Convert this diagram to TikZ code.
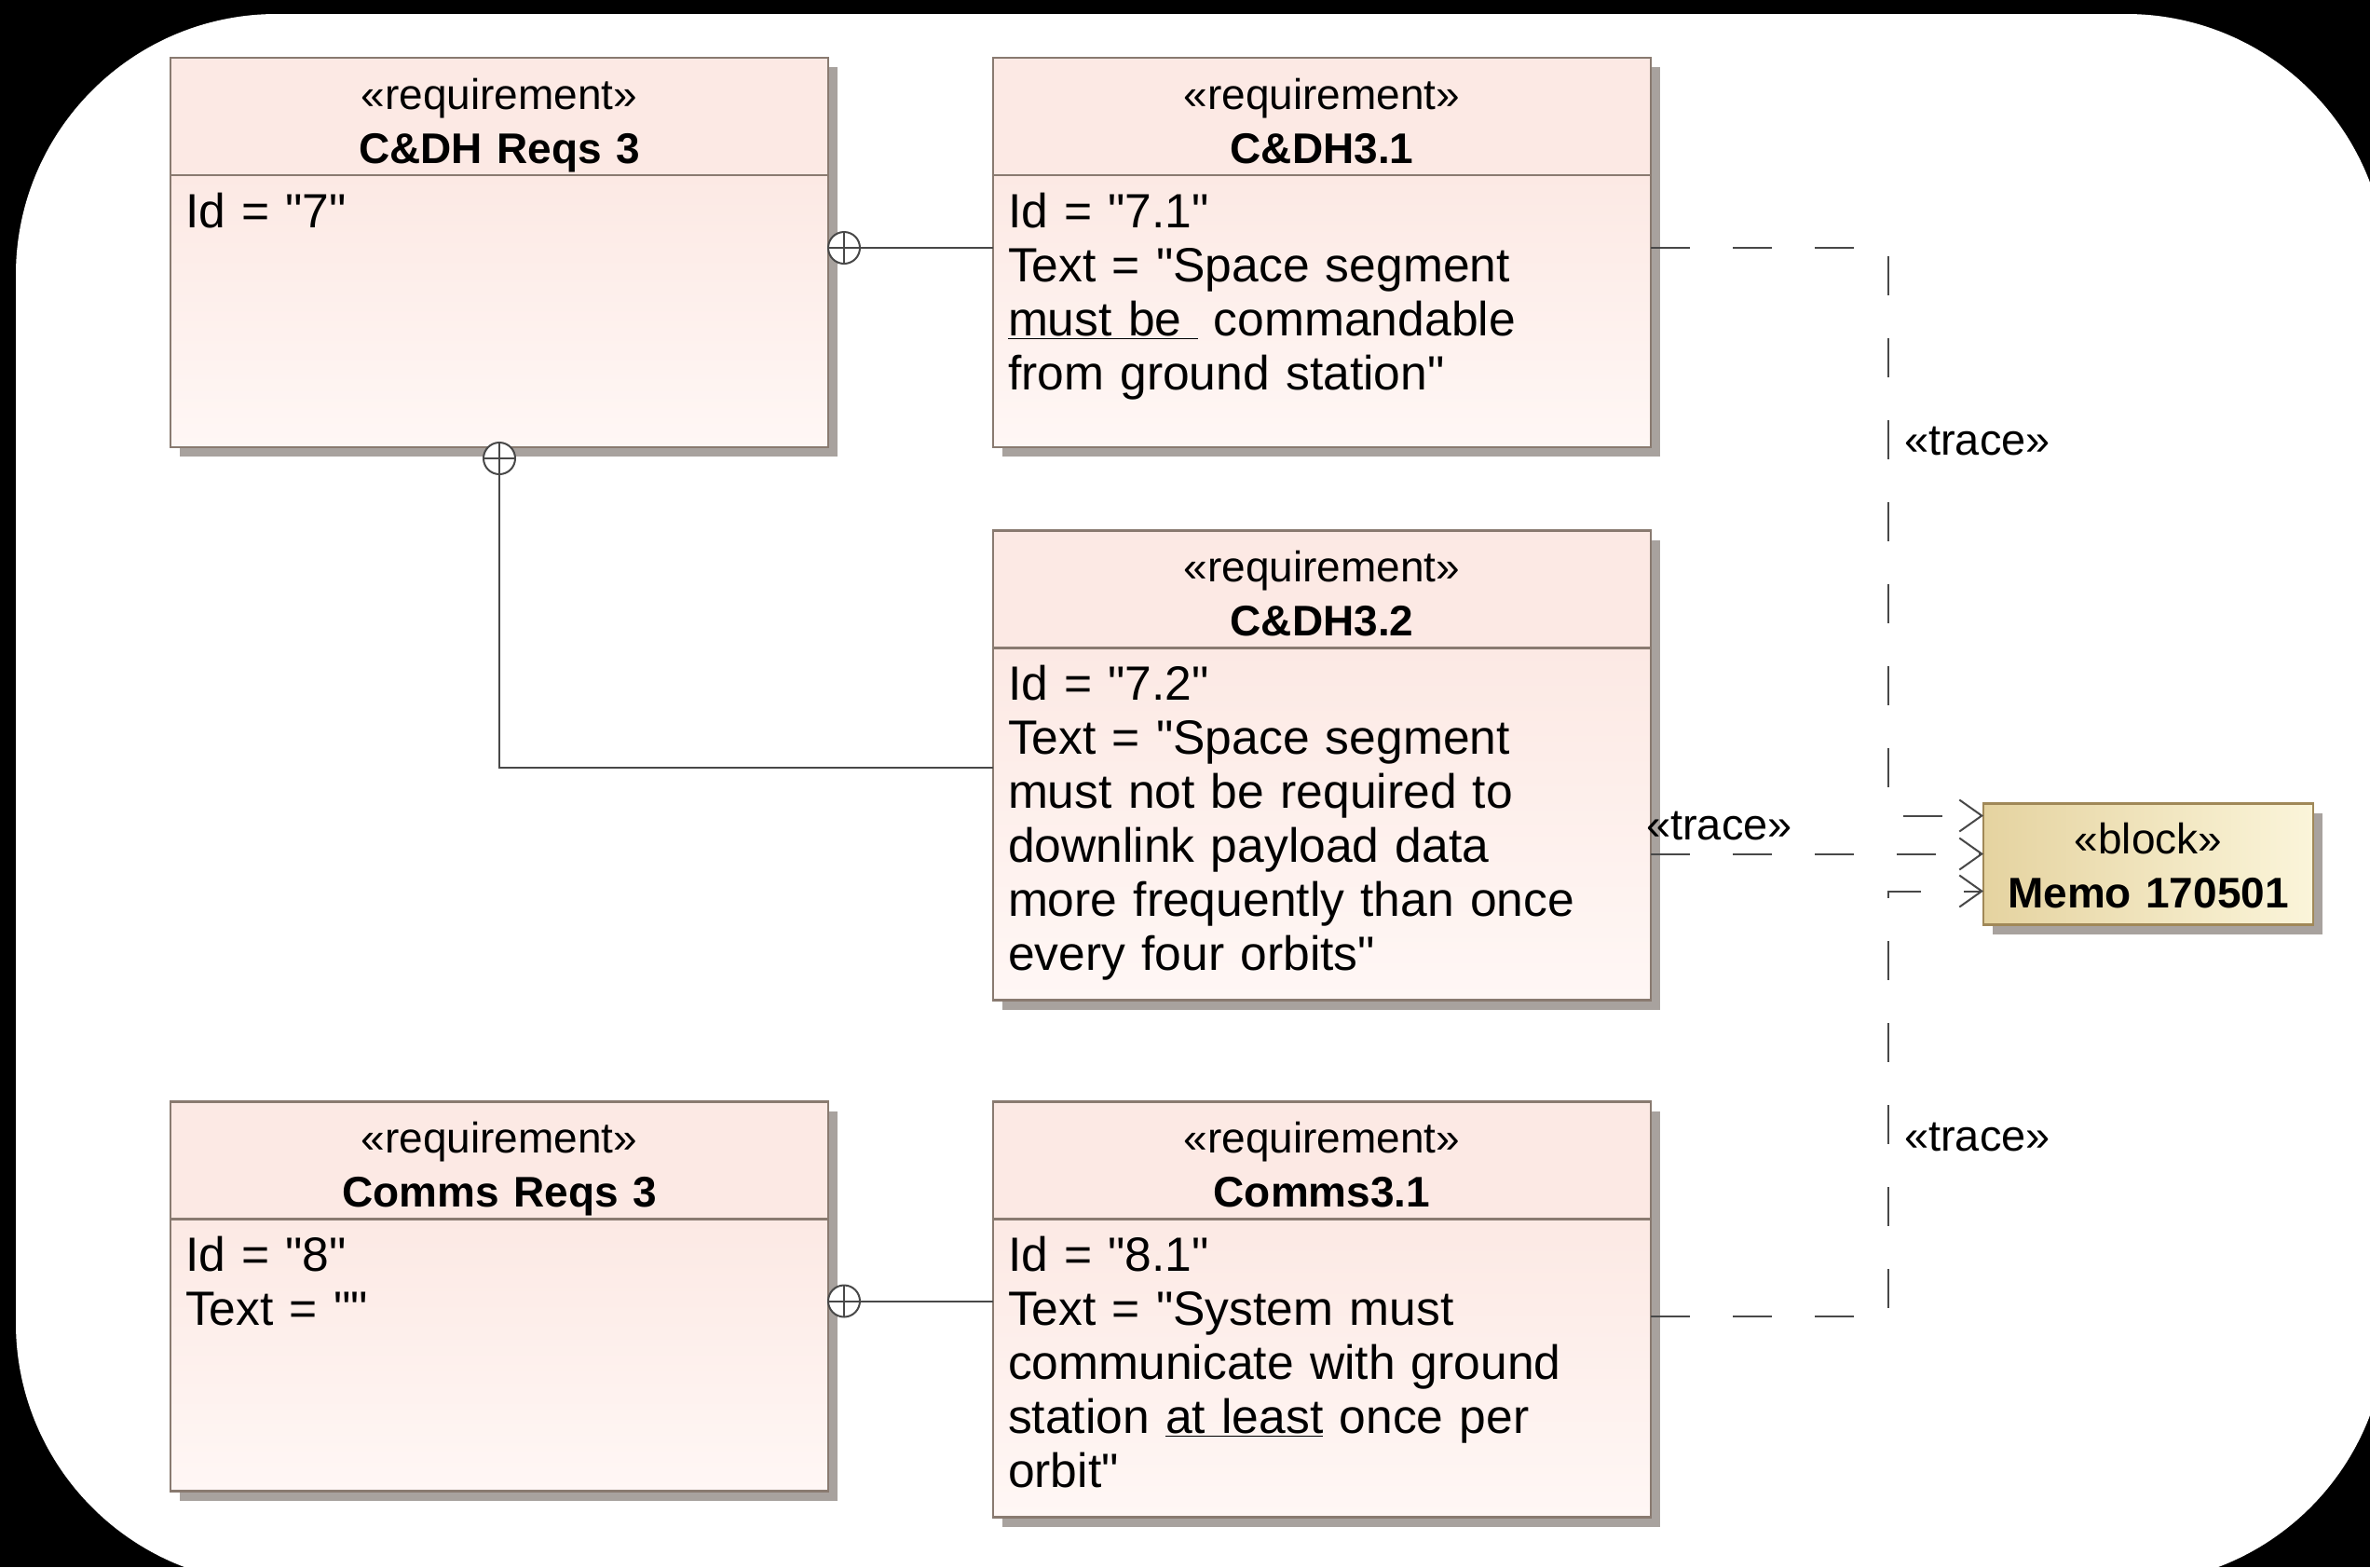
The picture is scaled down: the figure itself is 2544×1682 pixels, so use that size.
\documentclass[tikz,border=0pt]{standalone}
\usepackage{fontspec}
\setmainfont{Liberation Sans}[Ligatures=TeXOff]
\usetikzlibrary{arrows.meta,positioning,shadows}
\definecolor{reqline}{RGB}{137,122,112}
\definecolor{reqpink}{RGB}{252,233,228}
\definecolor{reqpale}{RGB}{255,247,245}
\definecolor{linkgray}{RGB}{72,72,72}
\definecolor{memotan}{RGB}{229,211,160}
\definecolor{memocream}{RGB}{251,245,218}
\definecolor{memoline}{RGB}{160,136,88}
\definecolor{shadowgray}{RGB}{168,162,158}

\begin{document}
\begin{tikzpicture}[x=0.5pt,y=-0.5pt,node distance=88.5pt,>={Straight Barb[length=12pt,width=17pt]}]
\tikzstyle{boxshadow}=[drop shadow={shadow xshift=5pt,shadow yshift=-5pt,fill=shadowgray,opacity=1}]
\tikzstyle{reqhead}=[draw=reqline,line width=1.2pt,fill=reqpink,boxshadow,outer sep=0pt,inner xsep=8pt,inner ysep=0pt,text width=337pt,align=center,text height=27.5pt,text depth=35.5pt,font=\fontsize{23pt}{29pt}\selectfont]
\tikzstyle{reqbody}=[draw=reqline,line width=1.2pt,top color=reqpink,bottom color=reqpale,boxshadow,outer sep=0pt,inner xsep=8pt,inner ysep=10pt,text width=337pt,align=left,text height=18pt,font=\fontsize{25.8pt}{29pt}\selectfont]
\tikzstyle{blockbox}=[draw=memoline,line width=1.2pt,left color=memotan,right color=memocream,boxshadow,outer sep=0pt,inner xsep=6pt,inner ysep=0pt,text width=165pt,align=center,text height=27pt,text depth=38pt,font=\fontsize{23pt}{29pt}\selectfont]
\tikzstyle{own}=[circle,draw=linkgray,line width=1pt,fill=white,minimum size=17pt,inner sep=0pt,outer sep=0pt,path picture={\draw[linkgray,line width=1pt] (path picture bounding box.north)--(path picture bounding box.south) (path picture bounding box.west)--(path picture bounding box.east);}]
\tikzstyle{link}=[draw=linkgray,line width=1pt]
\tikzstyle{tracel}=[draw=linkgray,line width=1pt,dash pattern=on 21pt off 23pt,->]
\tikzstyle{lbl}=[inner sep=2pt,font=\fontsize{23.5pt}{28pt}\selectfont]
\useasboundingbox (0,0) rectangle (2544,1682);
\fill[black] (0,0) rectangle (2544,1682);
\fill[white,rounded corners=140pt] (17,15) rectangle (2562,1700);
\node[reqhead,anchor=north west] (a) at (183,62) {«requirement»\\\textbf{C\&DH Reqs 3}};
\node[reqbody,text depth=108pt,below=0pt of a] (ab) {Id = "7"};
\node[reqhead,right=of a] (b) {«requirement»\\\textbf{C\&DH3.1}};
\node[reqbody,text depth=108pt,below=0pt of b] (bb) {Id = "7.1"\\Text = "Space segment\\\underline{must be\ }\ commandable\\from ground station"};
\node[reqhead,below=44.75pt of bb] (c) {«requirement»\\\textbf{C\&DH3.2}};
\node[reqbody,text depth=151pt,below=0pt of c] (cb) {Id = "7.2"\\Text = "Space segment\\must not be required to\\downlink payload data\\more frequently than once\\every four orbits"};
\node[reqhead,below=54.5pt of cb] (e) {«requirement»\\\textbf{Comms3.1}};
\node[reqbody,text depth=122pt,below=0pt of e] (eb) {Id = "8.1"\\Text = "System must\\communicate with ground\\station \underline{at least} once per\\orbit"};
\node[reqhead,left=of e] (d) {«requirement»\\\textbf{Comms Reqs 3}};
\node[reqbody,text depth=108pt,below=0pt of d] (db) {Id = "8"\\Text = ""};
\node[blockbox,right=178.5pt of cb,yshift=-21.5pt] (memo) {«block»\\\textbf{Memo 170501}};
\node[own,anchor=west] (o1) at ([yshift=-39pt]ab.north east) {};
\node[own,anchor=north] (o2) at ([yshift=2.5pt]ab.south) {};
\node[own,anchor=west] (o3) at ([yshift=-44pt]db.north east) {};
\draw[link] (o1.east)--(o1 -| bb.west); \draw[link] (o2.south) |- ([yshift=-64pt]cb.north west); \draw[link] (o3.east)--(o3 -| eb.west);
\coordinate (tx) at ([xshift=-51pt]memo.west);
\coordinate (m1) at ([yshift=26pt]memo.west);
\coordinate (m2) at ([yshift=5.5pt]memo.west);
\coordinate (m3) at ([yshift=-14.5pt]memo.west);
\draw[tracel] (o1 -| bb.east) -| node[lbl,pos=.67,right=6pt]{«trace»} (m1 -| tx) -- (m1);
\draw[tracel] (m2 -| cb.east) -- node[lbl,pos=0,above right,xshift=-5pt,yshift=5pt]{«trace»} (m2);
\draw[tracel] ([yshift=-52pt]eb.north east) -| node[lbl,pos=.71,right=6pt]{«trace»} (m3 -| tx) -- (m3);
\end{tikzpicture}
\end{document}
